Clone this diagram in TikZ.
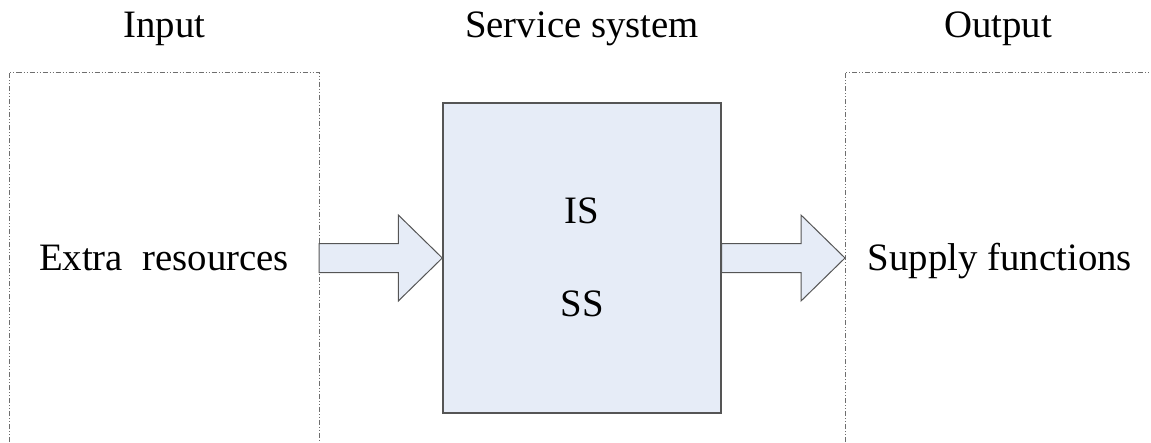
\documentclass[tikz,border=0pt]{standalone}
\usepackage{fontspec}
\setmainfont{Liberation Serif}
\usetikzlibrary{calc}
\definecolor{boxfill}{HTML}{E6ECF7}
\definecolor{boxline}{HTML}{555555}
\definecolor{frameline}{HTML}{6E6E6E}
\tikzset{
  frame/.style={draw=frameline, line width=0.9pt,
    dash pattern=on 5pt off 2pt on 1pt off 2pt on 1pt off 2pt},
  sysbox/.style={draw=boxline, fill=boxfill, line width=1.4pt,
    minimum width=278pt, minimum height=310pt, inner sep=0pt},
  arrowbox/.style={draw=boxline, fill=boxfill, line width=1pt, line join=miter},
  label/.style={font=\fontsize{38.8}{46}\selectfont, inner sep=0pt, anchor=base},
}
% block arrow from #1 (tail centre) to #2 (tip)
\newcommand\blockarrow[2]{%
  \draw[arrowbox]
    ($(#1)+(0,-14.5)$) -- ($(#2)+(-44,-14.5)$) -- ($(#2)+(-44,-43)$)
    -- (#2) -- ($(#2)+(-44,43)$) -- ($(#2)+(-44,14.5)$)
    -- ($(#1)+(0,14.5)$) -- cycle;}
\begin{document}
\begin{tikzpicture}[x=1pt, y=-1pt]
  \useasboundingbox (0,0) rectangle (1151,442);

  % input and output frames, open below (and open to the right for the output)
  \draw[frame] (9.5,442) -- (9.5,72) -- (319,72) -- (319,442);
  \draw[frame] (845,442) -- (845,72) -- (1151,72);
  \coordinate (inR) at (319,258);
  \coordinate (outL) at (845,258);

  % service system
  \node[sysbox] (sys) at (582,258) {};

  % headings
  \node[label] (hin) at (164.5,37) {Input};
  \node[label] (hsys) at (582,37) {Service system};
  \node[label] (hout) at (998,37) {Output};

  % contents
  \node[label] (res) at (164,270) {Extra\ \ resources};
  \node[label] (sup) at (1000,270) {Supply functions};
  \node[label] (is) at (582,223) {IS};
  \node[label] (ss) at (582,316) {SS};

  % flows
  \blockarrow{inR}{sys.west}
  \blockarrow{sys.east}{outL}
\end{tikzpicture}
\end{document}
